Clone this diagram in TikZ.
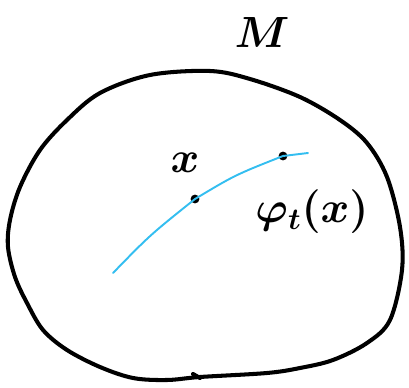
\documentclass[tikz,border=0pt]{standalone}
\usepackage{amsmath}
\usepackage{amssymb}
\usetikzlibrary{arrows.meta,positioning}

\definecolor{flowcyan}{RGB}{52,190,240}

\begin{document}
\begin{tikzpicture}[
    x=0.02cm, y=-0.02cm,
    boundary/.style={draw, line width=2.3pt, line cap=round, line join=round},
    orbit/.style={draw=flowcyan, line width=1.1pt, line cap=round},
    dot/.style={circle, fill=black, inner sep=0pt, minimum size=5pt},
    label/.style={inner sep=0pt, font=\fontsize{26}{28}\selectfont\boldmath}
  ]
    \useasboundingbox (0,0) rectangle (409,388);

    % the manifold
    \draw[boundary] plot[smooth cycle, tension=0.55] coordinates {
      (210,71) (250,79) (300,97) (340,120) (367,143) (387,177)
      (400,227) (402,270) (390,320) (367,343) (333,360) (300,368)
      (267,373) (200,377) (167,380) (133,378) (100,367) (67,350)
      (43,330) (27,303) (15,277) (8,247) (10,220) (20,187)
      (40,150) (67,120) (100,93) (150,75)};
    \draw[boundary] (193,374) -- (200,378);
    \node[label] (manifold) at (262,33) {$M$};

    % the orbit through x
    \coordinate (start) at (113,273);
    \coordinate (finish) at (308,153);
    \node[dot] (point) at (195,199) {};
    \node[dot] (image) at (283,156) {};
    \draw[orbit] (start) .. controls (150,235) .. (point.center)
      .. controls (235,175) .. (image.center) -- (finish);

    \node[label] (pointlabel) at (185,163) {$x$};
    \node[label] (imagelabel) at (312,212) {$\varphi_t(x)$};
  \end{tikzpicture}
\end{document}
